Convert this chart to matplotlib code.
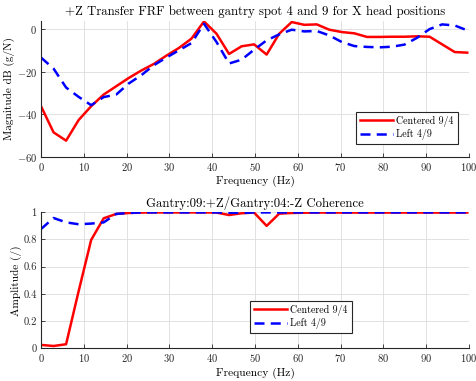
import matplotlib
matplotlib.use("Agg")
import matplotlib.pyplot as plt

plt.rcParams['font.family'] = 'serif'
plt.rcParams['font.serif'] = ['cmr10', 'DejaVu Serif']
plt.rcParams['mathtext.fontset'] = 'cm'
plt.rcParams['axes.unicode_minus'] = False
plt.rcParams['axes.formatter.use_mathtext'] = True

freq = [0.0, 2.93, 5.86, 8.79, 11.72, 14.65, 17.58, 20.51, 23.44, 26.37,
        29.30, 32.23, 35.16, 38.09, 41.02, 43.95, 46.88, 49.80, 52.73, 55.66,
        58.59, 61.52, 64.45, 67.38, 70.31, 73.24, 76.17, 79.10, 82.03, 84.96,
        87.89, 90.82, 93.75, 96.68, 99.61]

frf_centered = [-36.3, -48.6, -52.5, -42.8, -36.3, -30.8, -26.9, -23.0, -19.5, -16.4,
                -12.5, -8.9, -4.5, 3.6, -2.2, -11.7, -8.1, -7.2, -12.0, -2.2,
                3.3, 2.0, 2.2, -0.3, -1.4, -2.0, -3.7, -3.7, -3.6, -3.6,
                -3.4, -3.6, -7.2, -10.8, -11.1]
frf_left = [-13.4, -18.6, -27.5, -31.9, -35.8, -32.0, -30.8, -25.6, -21.7, -17.0,
            -13.4, -10.0, -6.6, 2.5, -6.1, -16.2, -14.4, -9.7, -5.3, -2.5,
            -0.3, -1.1, -0.9, -3.0, -6.1, -8.0, -8.4, -8.6, -8.3, -7.3,
            -4.1, 0.0, 2.2, 1.7, -0.6]

coh_centered = [0.025, 0.017, 0.03, 0.42, 0.797, 0.956, 0.988, 0.995, 0.998, 0.999,
                0.999, 0.999, 0.999, 0.999, 0.998, 0.98, 0.993, 0.998, 0.90, 0.99,
                0.995, 0.997, 0.998, 0.998, 0.998, 0.998, 0.998, 0.998, 0.998, 0.998,
                0.998, 0.998, 0.998, 0.998, 0.998]
coh_left = [0.877, 0.958, 0.926, 0.912, 0.917, 0.926, 0.988, 0.995, 0.999, 0.999,
            0.999, 0.999, 0.999, 0.999, 0.999, 0.997, 0.995, 0.999, 0.999, 0.999,
            0.999, 0.999, 0.999, 0.999, 0.999, 0.999, 0.999, 0.999, 0.999, 0.999,
            0.999, 0.999, 0.999, 0.999, 0.999]

labels = ['Centered 9/4', 'Left 4/9']


def style_axes(ax):
    ax.spines['top'].set_visible(False)
    ax.spines['right'].set_visible(False)
    ax.spines['left'].set_color('#262626')
    ax.spines['bottom'].set_color('#262626')
    ax.tick_params(direction='in', length=3, width=0.6, labelsize=7.6, colors='#262626', pad=3)
    ax.grid(True, color='#dcdcdc', linewidth=0.6)
    ax.set_axisbelow(True)
    ax.set_xlim(0, 100)
    ax.set_xticks(range(0, 101, 10))


def add_legend(ax, anchor):
    leg = ax.legend(loc='lower right', bbox_to_anchor=anchor, fontsize=7.2,
                    fancybox=False, edgecolor='#262626', framealpha=1,
                    handlelength=3.3, borderpad=0.4, labelspacing=0.25,
                    handletextpad=0.3, borderaxespad=0)
    leg.get_frame().set_linewidth(0.8)
    return leg


fig = plt.figure(figsize=(4.77, 3.81), dpi=100)

ax1 = fig.add_axes([0.086, 0.589, 0.897, 0.357])
ax1.plot(freq, frf_centered, color='red', linewidth=1.8, label=labels[0])
ax1.plot(freq, frf_left, color='blue', linewidth=1.8, linestyle=(0, (4, 2.5)), label=labels[1])
style_axes(ax1)
ax1.set_ylim(-60, 4)
ax1.set_yticks([-60, -40, -20, 0])
ax1.set_title('+Z Transfer FRF between gantry spot 4 and 9 for X head positions', fontsize=9.2, pad=4)
ax1.set_xlabel('Frequency (Hz)', fontsize=8.3, labelpad=2)
ax1.set_ylabel('Magnitude dB (g/N)', fontsize=8.1, labelpad=1)
add_legend(ax1, (0.974, 0.091))

ax2 = fig.add_axes([0.086, 0.0858, 0.897, 0.357])
ax2.plot(freq, coh_centered, color='red', linewidth=1.8, label=labels[0])
ax2.plot(freq, coh_left, color='blue', linewidth=1.8, linestyle=(0, (4, 2.5)), label=labels[1])
style_axes(ax2)
ax2.set_ylim(0, 1)
ax2.set_yticks([0, 0.2, 0.4, 0.6, 0.8, 1])
ax2.set_yticklabels(['0', '0.2', '0.4', '0.6', '0.8', '1'])
ax2.set_title('Gantry:09:+Z/Gantry:04:-Z Coherence', fontsize=9.2, pad=4)
ax2.set_xlabel('Frequency (Hz)', fontsize=8.3, labelpad=2)
ax2.set_ylabel('Amplitude (/)', fontsize=8.1, labelpad=1)
add_legend(ax2, (0.726, 0.11))

fig.savefig('out.png', dpi=100)
